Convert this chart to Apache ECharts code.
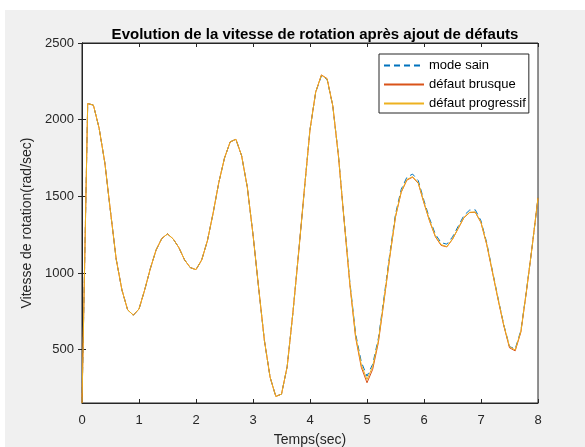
<!DOCTYPE html>
<html>
<head>
<meta charset="utf-8">
<script src="https://cdn.jsdelivr.net/npm/echarts@6/dist/echarts.min.js"></script>
<style>html,body{margin:0;padding:0;background:#fff}#c{width:585px;height:447px}</style>
</head>
<body>
<div id="c"></div>
<script>
const xTicks = [0,1,2,3,4,5,6,7,8];
const yTicks = [500,1000,1500,2000,2500];
const seriesNames = ['mode sain','défaut brusque','défaut progressif'];
const progressif = [152,2105,2095,1945,1720,1400,1090,890,760,725,765,890,1030,1150,1225,1255,1222,1165,1085,1035,1022,1085,1210,1390,1590,1750,1855,1872,1765,1560,1250,900,560,320,195,210,390,740,1130,1540,1935,2180,2290,2265,2090,1760,1340,930,590,400,305,390,560,830,1110,1370,1530,1610,1628,1588,1460,1340,1240,1185,1172,1222,1292,1362,1396,1398,1330,1190,1010,830,660,520,498,620,890,1180,1490];
const sain = [152,2105,2095,1945,1720,1400,1090,890,760,725,765,890,1030,1150,1225,1255,1222,1165,1085,1035,1022,1085,1210,1390,1590,1750,1855,1872,1765,1560,1250,900,560,320,195,210,390,740,1130,1540,1935,2180,2285,2262,2090,1762,1345,940,605,420,327,405,575,845,1125,1385,1545,1625,1645,1602,1472,1352,1252,1198,1188,1235,1305,1375,1410,1412,1340,1198,1015,835,662,520,505,625,892,1180,1490];
const brusque = [152,2105,2095,1945,1720,1400,1090,890,760,725,765,890,1030,1150,1225,1255,1222,1165,1085,1035,1022,1085,1210,1390,1590,1750,1855,1872,1765,1560,1250,900,560,320,195,210,390,740,1130,1540,1935,2180,2292,2268,2090,1758,1335,922,580,385,284,372,548,822,1105,1366,1526,1606,1625,1585,1455,1336,1236,1180,1170,1220,1290,1360,1394,1396,1328,1186,1006,826,655,512,492,615,888,1180,1490];
const times = progressif.map((_, i) => i / 10);
const pairs = arr => arr.map((v, i) => [times[i], v]);

const chart = echarts.init(document.getElementById('c'), null, {renderer: 'canvas'});
const axisColor = '#262626';
const font = 'Liberation Sans, Arial, Helvetica, sans-serif';
const baseX = {
  type: 'value', min: 0, max: 8, interval: 1,
  axisLine: {show: true, lineStyle: {color: axisColor, width: 1}},
  axisTick: {show: true, inside: true, length: 4, lineStyle: {color: axisColor}},
  splitLine: {show: false}
};
const baseY = {
  type: 'value', min: 152, max: 2500,
  axisLine: {show: true, lineStyle: {color: axisColor, width: 1}},
  axisTick: {show: true, inside: true, length: 4, customValues: yTicks, lineStyle: {color: axisColor}},
  splitLine: {show: false}
};
chart.setOption({
  backgroundColor: '#ffffff',
  animation: false,
  graphic: [{type: 'rect', left: 5, top: 10, shape: {width: 580, height: 437}, style: {fill: '#f0f0f0'}, z: -10, silent: true}],
  title: {
    text: 'Evolution de la vitesse de rotation après ajout de défauts',
    left: 310, top: 22, textAlign: 'center',
    textStyle: {fontFamily: font, fontSize: 15, fontWeight: 'bold', color: '#000'}
  },
  grid: {left: 82, right: 47, top: 43, bottom: 44, show: true, backgroundColor: '#ffffff', borderColor: axisColor, borderWidth: 1,
         containLabel: false, outerBoundsMode: 'none'},
  legend: {
    data: seriesNames,
    orient: 'vertical', left: 379, top: 54,
    itemWidth: 40, itemHeight: 12, itemGap: 6,
    padding: [5, 3, 3, 4],
    backgroundColor: '#ffffff', borderColor: axisColor, borderWidth: 1,
    itemStyle: {opacity: 0},
    textStyle: {fontFamily: font, fontSize: 13, color: '#000'}
  },
  xAxis: [
    Object.assign({}, baseX, {
      position: 'bottom',
      name: 'Temps(sec)', nameLocation: 'middle', nameGap: 30,
      nameTextStyle: {fontFamily: font, fontSize: 14, color: axisColor},
      axisLabel: {show: true, fontFamily: font, fontSize: 13, color: axisColor, margin: 11, customValues: xTicks}
    }),
    Object.assign({}, baseX, {position: 'top', axisLabel: {show: false}})
  ],
  yAxis: [
    Object.assign({}, baseY, {
      position: 'left',
      name: 'Vitesse de rotation(rad/sec)', nameLocation: 'middle', nameGap: 33,
      nameTextStyle: {fontFamily: font, fontSize: 14, color: axisColor},
      axisLabel: {show: true, fontFamily: font, fontSize: 13, color: axisColor, margin: 8, customValues: yTicks,
                  formatter: v => String(v)}
    }),
    Object.assign({}, baseY, {position: 'right', axisLabel: {show: false}})
  ],
  series: [
    {name: seriesNames[0], type: 'line', data: pairs(sain), symbol: 'none', color: '#0072BD',
     lineStyle: {width: 1, type: [6, 4], color: '#0072BD'}, z: 2},
    {name: seriesNames[1], type: 'line', data: pairs(brusque), symbol: 'none', color: '#D95319',
     lineStyle: {width: 1, color: '#D95319'}, z: 3},
    {name: seriesNames[2], type: 'line', data: pairs(progressif), symbol: 'none', color: '#EDB120',
     lineStyle: {width: 1, color: '#EDB120'}, z: 4}
  ]
});
</script>
</body>
</html>
